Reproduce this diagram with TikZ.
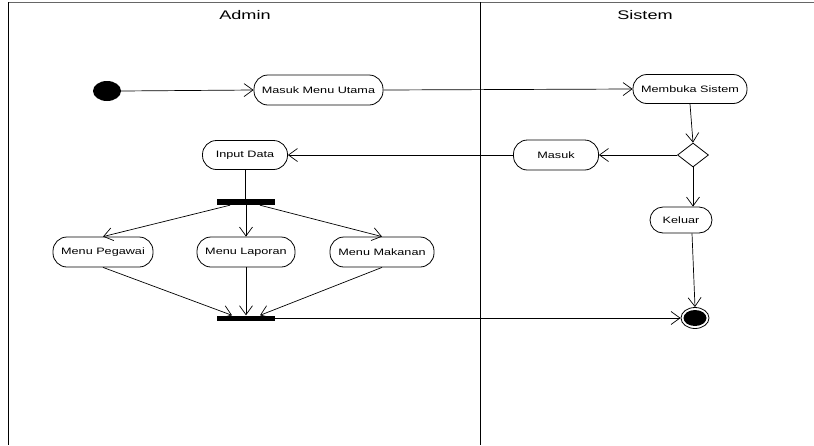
\documentclass[tikz,border=0pt]{standalone}
\usepackage{fontspec}
\setmainfont{Liberation Sans}
\newfontfamily\actfont[FakeStretch=1.36]{Liberation Sans}
\newfontfamily\lanefont[FakeStretch=1.45]{Liberation Sans}
\usetikzlibrary{shapes.geometric,arrows.meta}

\tikzset{
  act/.style={draw, rectangle, rounded corners=14pt, minimum height=30pt,
    inner sep=0pt, line width=0.8pt, font=\actfont\fontsize{9.3}{11}\selectfont},
  bar/.style={fill=black, rectangle, inner sep=0pt, minimum width=58pt},
  flow/.style={line width=0.7pt, -{Straight Barb[length=9pt,width=13pt,line width=0.7pt]}},
  plain/.style={line width=0.7pt},
  lane/.style={line width=1pt},
  lanetitle/.style={font=\lanefont\fontsize{12.5}{14}\selectfont, inner sep=0pt}
}

\begin{document}
\begin{tikzpicture}[x=1pt, y=-1pt]
  \useasboundingbox (0,0) rectangle (814,445);

  % swimlanes
  \draw[lane, black!60] (8,2) -- (814,2);
  \draw[lane] (8,2) -- (8,445);
  \draw[lane] (480,2) -- (480,445);
  \node[lanetitle] (ladmin) at (245,15) {Admin};
  \node[lanetitle] (lsistem) at (645,15) {Sistem};

  % states and activities
  \node[ellipse, fill=black, minimum width=28pt, minimum height=20pt, inner sep=0pt] (start) at (107,91) {};
  \node[act, minimum width=129pt] (mmu) at (318.5,90) {Masuk Menu Utama};
  \node[act, minimum width=114pt, minimum height=29pt] (ms) at (690,89) {Membuka Sistem};
  \node[diamond, draw, line width=0.8pt, minimum width=31pt, minimum height=24pt, inner sep=0pt] (dec) at (693,155) {};
  \node[act, minimum width=85pt] (masuk) at (556,155) {Masuk};
  \node[act, minimum width=85pt, minimum height=29pt] (input) at (245,155) {Input Data};
  \node[bar, minimum height=6pt] (fork) at (246,202) {};
  \node[act, minimum width=100pt] (peg) at (103,252) {Menu Pegawai};
  \node[act, minimum width=98pt] (lap) at (246,252) {Menu Laporan};
  \node[act, minimum width=104pt] (mak) at (382,252) {Menu Makanan};
  \node[bar, minimum height=5pt] (join) at (246,318) {};
  \node[act, minimum width=62pt, minimum height=26pt, rounded corners=13pt] (kel) at (681,220) {Keluar};
  \node[ellipse, draw, line width=0.8pt, minimum width=28pt, minimum height=21pt, inner sep=0pt] (final) at (695,318) {};
  \node[ellipse, fill=black, minimum width=23pt, minimum height=16pt, inner sep=0pt] (finaldot) at (final.center) {};

  % control flow
  \draw[flow] (start.east) -- (mmu.west);
  \draw[flow] (mmu.east) -- (ms.west);
  \draw[flow] (ms.south) -- (dec.north);
  \draw[flow] (dec.west) -- (masuk.east);
  \draw[flow] (masuk.west) -- (input.east);
  \draw[plain] (input.south) -- (fork.north -| input.south);
  \draw[flow] ([xshift=-16pt]fork.south) -- (peg.north);
  \draw[flow] (fork.south) -- (lap.north);
  \draw[flow] ([xshift=14pt]fork.south) -- (mak.north);
  \draw[flow] (peg.south) -- ([xshift=-14pt]join.north);
  \draw[flow] (lap.south) -- (join.north);
  \draw[flow] (mak.south) -- ([xshift=14pt]join.north);
  \draw[flow] (join.east) -- (final.west);
  \draw[flow] (dec.south) -- (dec.south |- kel.north);
  \draw[flow] ([xshift=11pt]kel.south) -- (final.north);
\end{tikzpicture}
\end{document}
